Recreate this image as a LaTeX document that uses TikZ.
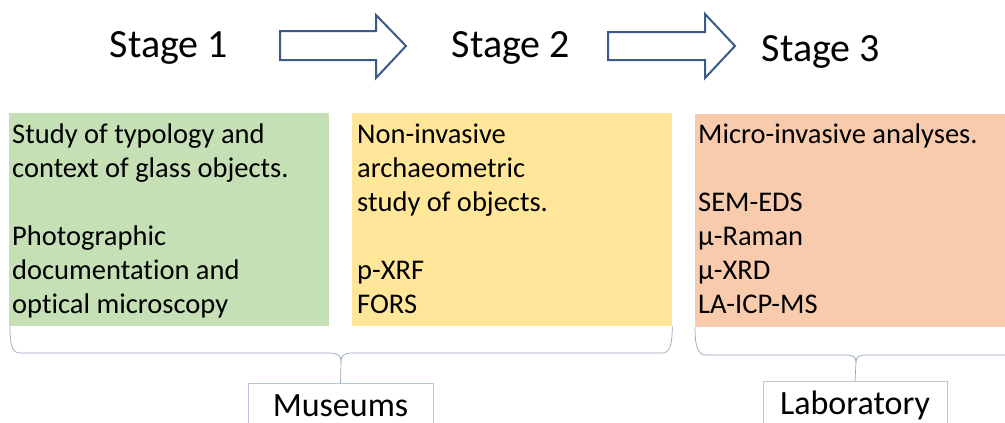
\documentclass[tikz,border=0pt]{standalone}
\usepackage{fontspec}
\setmainfont{Carlito}[Ligatures=NoCommon]
\definecolor{stageone}{HTML}{C5E0B4}
\definecolor{stagetwo}{HTML}{FFE699}
\definecolor{stagethree}{HTML}{F8CBAD}
\definecolor{arrowblue}{RGB}{59,90,140}
\definecolor{bracegray}{RGB}{150,166,188}
\definecolor{framegray}{RGB}{184,198,216}
\tikzset{
  stagetitle/.style={font=\fontsize{40}{48}\selectfont, anchor=base, inner sep=0pt},
  panel/.style={anchor=north west, inner sep=0pt, minimum height=213pt},
  note/.style={anchor=base west, inner sep=0pt, font=\fontsize{28.5}{34}\selectfont},
  blockarrow/.style={draw=arrowblue, line width=2pt, line join=miter, fill=white},
  bracket/.style={draw=bracegray, line width=0.7pt},
  placebox/.style={draw=framegray, line width=0.8pt, anchor=north, inner sep=0pt, minimum height=80pt},
  placename/.style={font=\fontsize{34}{40}\selectfont, anchor=base, inner sep=0pt}
}
\begin{document}
\begin{tikzpicture}[x=1pt,y=-1pt]
\useasboundingbox (0,0) rectangle (1005,423);
\clip (0,0) rectangle (1005,423);
\fill[white] (0,0) rectangle (1005,423);

% stage headings
\node[stagetitle] (s1) at (169,57) {Stage 1};
\node[stagetitle] (s2) at (511,57) {Stage 2};
\node[stagetitle] (s3) at (821,61) {Stage 3};

% block arrows between the headings
\draw[blockarrow] (280,31) -- (376,31) -- (376,15) -- (406,46) -- (376,78)
  -- (376,60) -- (280,60) -- cycle;
\draw[blockarrow] (608,32) -- (705,32) -- (705,14) -- (735,46) -- (705,78)
  -- (705,60) -- (608,60) -- cycle;

% coloured panels
\node[panel, fill=stageone, minimum width=320pt] (p1) at (9,113) {};
\node[panel, fill=stagetwo, minimum width=320pt] (p2) at (352,113) {};
\node[panel, fill=stagethree, minimum width=320pt] (p3) at (695,114) {};

\node[note] (t1) at (12,143) {\parbox[t]{320pt}{Study of typology and\\
  context of glass objects.\\[34pt]
  Photographic\\ documentation and\\ optical microscopy}};
\node[note] (t2) at (357,143) {\parbox[t]{320pt}{Non-invasive\\
  archaeometric\\ study of objects.\\[34pt]
  p-XRF\\ FORS}};
\node[note] (t3) at (698,143) {\parbox[t]{320pt}{Micro-invasive analyses.\\[34pt]
  SEM-EDS\\ µ-Raman\\ µ-XRD\\ LA-ICP-MS}};

% places
\node[placebox, minimum width=185pt] (mbox) at (340.5,383) {};
\node[placename] (mus) at (340.5,416) {Museums};
\node[placebox, minimum width=184pt] (lbox) at (855,381) {};
\node[placename] (lab) at (855,414) {Laboratory};

% braces grouping the panels
\draw[bracket] (mbox.north) -- (341,361)
  .. controls (341,356) and (338,353) .. (330,353) -- (20,353)
  .. controls (12,353) and (10,345) .. (p1.south west -| 10,0);
\draw[bracket] (341,361)
  .. controls (341,356) and (344,353) .. (352,353) -- (662,353)
  .. controls (670,353) and (672,345) .. (p2.south east);
\draw[bracket] (lbox.north) -- (856,362)
  .. controls (856,357) and (853,355) .. (845,355) -- (706,355)
  .. controls (698,355) and (695,347) .. (p3.south west);
\draw[bracket] (856,362)
  .. controls (856,357) and (859,355) .. (867,355) -- (1010,355);
\end{tikzpicture}
\end{document}
